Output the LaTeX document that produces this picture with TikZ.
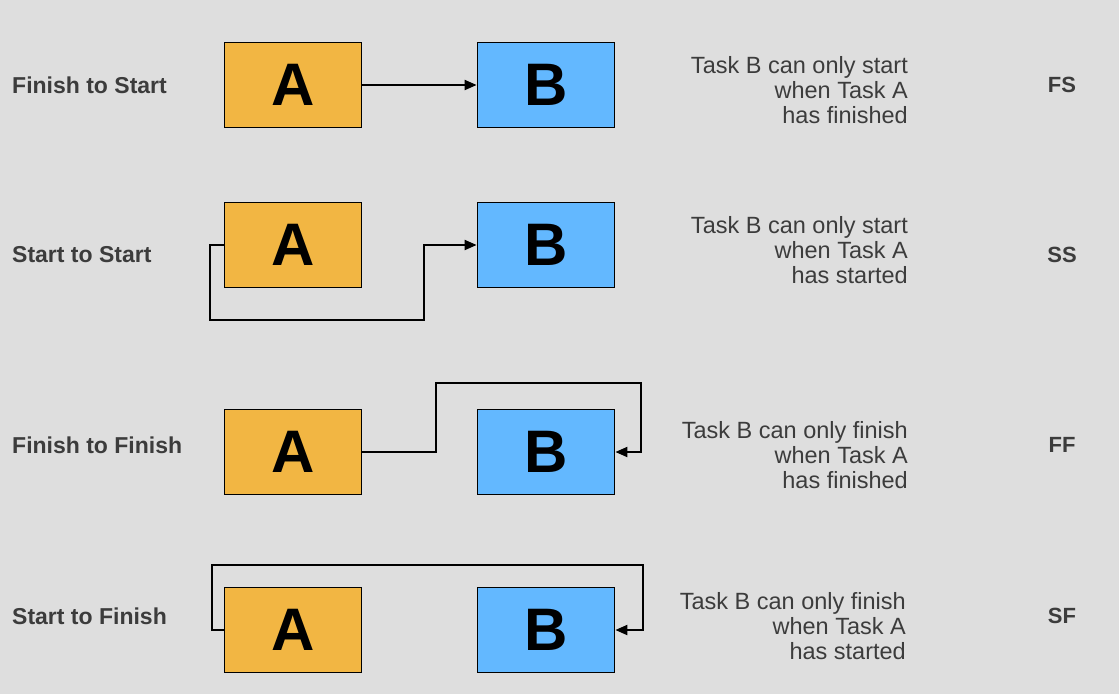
\documentclass[tikz,border=0pt]{standalone}
\usepackage{fontspec}
\setmainfont{Liberation Sans}
\usetikzlibrary{arrows.meta}
\definecolor{bg}{HTML}{DEDEDE}
\definecolor{taskA}{HTML}{F2B643}
\definecolor{taskB}{HTML}{63B8FF}
\definecolor{note}{HTML}{3C3C3C}
\tikzset{
  task/.style={draw=black,line width=1.8pt,minimum width=137pt,minimum height=85pt,
    font=\fontsize{60}{60}\selectfont\bfseries},
  rowlabel/.style={anchor=west,inner sep=0pt,font=\fontsize{23}{23}\selectfont\bfseries,text=note},
  code/.style={font=\fontsize{22}{22}\selectfont\bfseries,text=note},
  desc/.style={anchor=east,align=right,inner sep=0pt,font=\fontsize{23.5}{25}\selectfont,text=note},
  link/.style={line width=2pt,-{Triangle[length=12pt,width=10pt]}}
}
\begin{document}
\begin{tikzpicture}[x=1pt,y=-1pt]
  \fill[bg] (0,0) rectangle (1119,694);
  \useasboundingbox (0,0) rectangle (1119,694);
  % Finish to Start
  \node[rowlabel] (l1) at (12,85) {Finish to Start};
  \node[task,fill=taskA] (a1) at (293,85) {A};
  \node[task,fill=taskB] (b1) at (546,85) {B};
  \node[desc] (d1) at (908,90) {Task B can only start\\when Task A\\has finished};
  \node[code] (c1) at (1062,85) {FS};
  \draw[link] (a1.east) -- (b1.west);
  % Start to Start
  \node[rowlabel] (l2) at (12,255) {Start to Start};
  \node[task,fill=taskA] (a2) at (293,245) {A};
  \node[task,fill=taskB] (b2) at (546,245) {B};
  \node[desc] (d2) at (908,250) {Task B can only start\\when Task A\\has started};
  \node[code] (c2) at (1062,255) {SS};
  \draw[link] (a2.west) -| (210,320) -| (424,245) -- (b2.west);
  % Finish to Finish
  \node[rowlabel] (l3) at (12,445) {Finish to Finish};
  \node[task,fill=taskA] (a3) at (293,452) {A};
  \node[task,fill=taskB] (b3) at (546,452) {B};
  \node[desc] (d3) at (908,455) {Task B can only finish\\when Task A\\has finished};
  \node[code] (c3) at (1062,445) {FF};
  \draw[link] (a3.east) -| (436,383) -| (641,452) -- (b3.east);
  % Start to Finish
  \node[rowlabel] (l4) at (12,616) {Start to Finish};
  \node[task,fill=taskA] (a4) at (293,630) {A};
  \node[task,fill=taskB] (b4) at (546,630) {B};
  \node[desc] (d4) at (906,626) {Task B can only finish\\when Task A\\has started};
  \node[code] (c4) at (1062,616) {SF};
  \draw[link] (a4.west) -| (212,565) -| (643,630) -- (b4.east);
\end{tikzpicture}
\end{document}
